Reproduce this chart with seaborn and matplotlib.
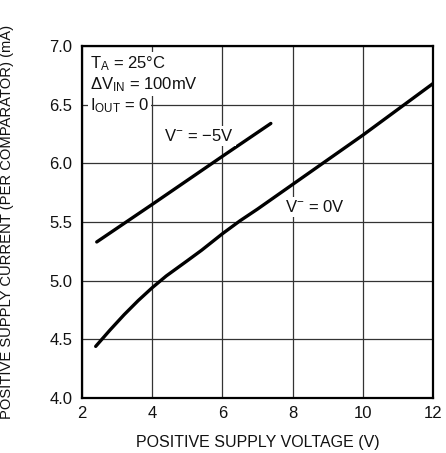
import matplotlib
matplotlib.use("Agg")
import matplotlib.pyplot as plt
import seaborn as sns
import pandas as pd

# Supply current vs positive supply voltage, two negative-rail settings
v_neg5 = [2.42, 4.0, 6.0, 7.38]
i_neg5 = [5.33, 5.65, 6.06, 6.34]

v_zero = [2.39, 2.8, 3.2, 3.6, 4.0, 4.4, 5.0, 5.41, 6.0, 6.5, 7.0, 8.0, 9.0, 10.0, 11.0, 12.0]
i_zero = [4.44, 4.58, 4.71, 4.83, 4.94, 5.04, 5.17, 5.26, 5.40, 5.51, 5.61, 5.82, 6.03, 6.24, 6.46, 6.68]

x_ticks = [2, 4, 6, 8, 10, 12]
y_ticks = [4.0, 4.5, 5.0, 5.5, 6.0, 6.5, 7.0]

df = pd.concat([
    pd.DataFrame({"v": v_neg5, "i": i_neg5, "series": "neg5"}),
    pd.DataFrame({"v": v_zero, "i": i_zero, "series": "zero"}),
])

sns.set_theme(style="white")
plt.rcParams["font.family"] = ["Liberation Sans Narrow", "Liberation Sans", "DejaVu Sans"]
plt.rcParams["mathtext.default"] = "regular"

fig = plt.figure(figsize=(4.46, 4.53), dpi=100)
ax = fig.add_axes([82 / 446, 55 / 453, 351 / 446, 352 / 453])

sns.lineplot(data=df, x="v", y="i", hue="series", palette=["black", "black"],
             estimator=None, sort=False, legend=False, linewidth=2.4, ax=ax)

ax.set_xlim(2, 12)
ax.set_ylim(4.0, 7.0)
ax.set_xticks(x_ticks)
ax.set_xticklabels([str(t) for t in x_ticks])
ax.set_yticks(y_ticks)
ax.set_yticklabels([f"{t:.1f}" for t in y_ticks])
ax.grid(True, color="#333333", linewidth=0.9)
ax.set_axisbelow(True)
for s in ax.spines.values():
    s.set_color("black")
    s.set_linewidth(1.6)
ax.tick_params(axis="both", length=0, labelsize=12, colors="#111111")
ax.tick_params(axis="y", pad=7)
ax.tick_params(axis="x", pad=6)

ax.set_xlabel("POSITIVE SUPPLY VOLTAGE (V)", fontsize=11.5, color="#111111")
ax.set_ylabel("POSITIVE SUPPLY CURRENT (PER COMPARATOR) (mA)", fontsize=10.6, color="#111111")
ax.xaxis.set_label_coords(0.5, -0.105)
ax.yaxis.set_label_coords(-0.195, 0.5)

box = dict(facecolor="white", edgecolor="none", pad=1.5)
cond = ["T$_{A}$ = 25°C", "ΔV$_{IN}$ = 100mV", "I$_{OUT}$ = 0"]
for k, t in enumerate(cond):
    ax.text(2.22, 6.85 - k * 0.18, t, fontsize=12, ha="left", va="center",
            color="#111111", bbox=box, zorder=5)

ax.text(4.35, 6.23, "V$^{-}$ = −5V", fontsize=12, ha="left", va="center",
        color="#111111", bbox=box, zorder=5)
ax.text(7.78, 5.63, "V$^{-}$ = 0V", fontsize=12, ha="left", va="center",
        color="#111111", bbox=box, zorder=5)

fig.savefig("out.png", dpi=100)
